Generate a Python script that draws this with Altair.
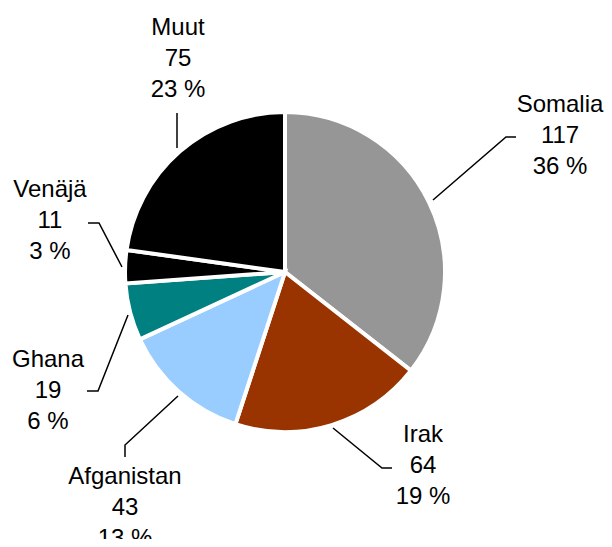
import altair as alt
import pandas as pd

# data
countries = ["Somalia", "Irak", "Afganistan", "Ghana", "Venäjä", "Muut"]
counts = [117, 64, 43, 19, 11, 75]
percents = ["36 %", "19 %", "13 %", "6 %", "3 %", "23 %"]
colors = ["#969696", "#993300", "#99CCFF", "#008080", "#000000", "#000000"]

# layout (pixel positions inside the plot area, origin at page (8,8))
OFF = 8
cx, cy, R = 285 - OFF, 272 - OFF, 160
label_cx = [560, 423, 125, 48, 50, 178]
label_base = [112, 442, 484, 367, 197, 35]
line_gap = 31
leaders = {
    "Somalia": [(433, 200), (506, 137), (516, 137)],
    "Irak": [(333, 428), (382, 468), (392, 468)],
    "Afganistan": [(178, 396), (125, 445), (125, 457)],
    "Ghana": [(128, 315), (98, 391), (87, 391)],
    "Venäjä": [(122, 267), (99, 223), (88, 223)],
    "Muut": [(177, 148), (177, 113)],
}

pie_df = pd.DataFrame({
    "country": countries,
    "count": counts,
    "order": list(range(len(countries))),
})

rows = []
for i, c in enumerate(countries):
    lines = [c, str(counts[i]), percents[i]]
    for j, t in enumerate(lines):
        rows.append({"text": t, "x": label_cx[i] - OFF,
                     "y": label_base[i] + j * line_gap - OFF})
text_df = pd.DataFrame(rows)

lrows = []
for c, pts in leaders.items():
    for k, (px, py) in enumerate(pts):
        lrows.append({"country": c, "k": k, "x": px - OFF, "y": py - OFF})
line_df = pd.DataFrame(lrows)

pie = alt.Chart(pie_df).mark_arc(
    outerRadius=R, stroke="white", strokeWidth=4
).encode(
    theta=alt.Theta("count:Q", stack=True),
    order=alt.Order("order:Q"),
    color=alt.Color("country:N", scale=alt.Scale(domain=countries, range=colors), legend=None),
    x=alt.value(cx),
    y=alt.value(cy),
)

leader = alt.Chart(line_df).mark_line(color="black", strokeWidth=1.5).encode(
    x=alt.X("x:Q", scale=None, axis=None),
    y=alt.Y("y:Q", scale=None, axis=None),
    detail="country:N",
    order="k:Q",
)

labels = alt.Chart(text_df).mark_text(
    font="Liberation Sans", fontSize=24, color="black",
    align="center", baseline="alphabetic"
).encode(
    x=alt.X("x:Q", scale=None, axis=None),
    y=alt.Y("y:Q", scale=None, axis=None),
    text="text:N",
)

chart = alt.layer(pie, leader, labels).properties(
    width=596, height=531, padding=0,
    autosize=alt.AutoSizeParams(type="none"),
).configure_view(stroke=None)

chart.save("out.html", embed_options={"renderer": "svg", "actions": False})
